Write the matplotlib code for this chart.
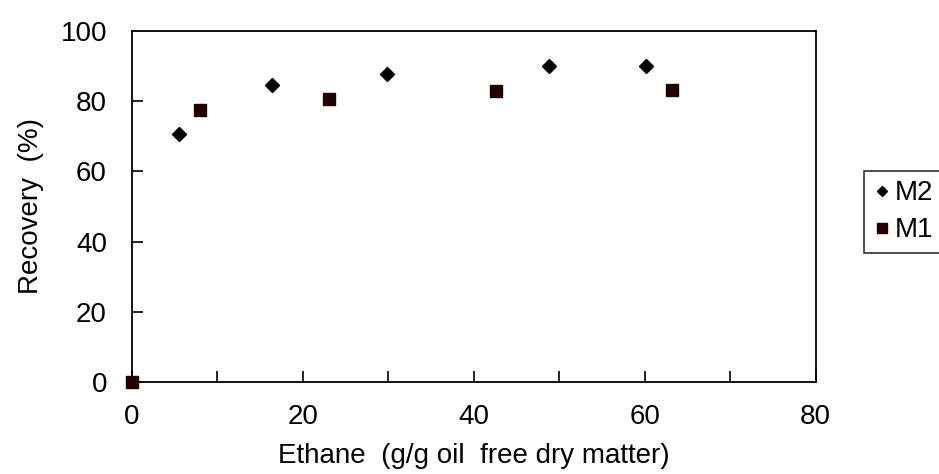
import matplotlib.pyplot as plt

# Data
m2_x = [5.5, 16.4, 29.8, 48.8, 60.2]
m2_y = [70.5, 84.6, 87.8, 89.9, 89.9]
m1_x = [0.0, 8.0, 23.1, 42.6, 63.2]
m1_y = [0.0, 77.4, 80.6, 82.8, 83.1]

x_ticks = [0, 10, 20, 30, 40, 50, 60, 70, 80]
x_labels = ['0', '', '20', '', '40', '', '60', '', '80']
y_ticks = [0, 20, 40, 60, 80, 100]

plt.rcParams['font.family'] = ['Liberation Sans', 'DejaVu Sans']

fig = plt.figure(figsize=(9.39, 4.74), dpi=100)
ax = fig.add_axes([0.1405, 0.194, 0.7282, 0.741])

ax.plot(m2_x, m2_y, linestyle='none', marker='D', markersize=7,
        color='black', label='M2', clip_on=False)
ax.plot(m1_x, m1_y, linestyle='none', marker='s', markersize=9,
        color='#220000', label='M1', clip_on=False, zorder=3)

ax.set_xlim(0, 80)
ax.set_ylim(0, 100)
ax.set_xticks(x_ticks)
ax.set_xticklabels(x_labels)
ax.set_yticks(y_ticks)

ax.tick_params(axis='both', direction='in', length=8, width=1.2, labelsize=20)
ax.tick_params(axis='x', pad=16, top=False)
ax.tick_params(axis='y', pad=18, right=False)
# the 100 tick sits on the top border, hide its mark
ax.yaxis.get_major_ticks()[-1].tick1line.set_visible(False)

for s in ax.spines.values():
    s.set_linewidth(1.3)
    s.set_color('black')

ax.set_xlabel('Ethane  (g/g oil  free dry matter)', fontsize=20, labelpad=9)
ax.set_ylabel('Recovery  (%)', fontsize=20, labelpad=12)

leg = fig.legend(loc='upper left', bbox_to_anchor=(0.92, 0.64),
                 fontsize=20, frameon=True, fancybox=False, edgecolor='black',
                 handlelength=0.6, handletextpad=0.15, markerscale=0.8,
                 borderpad=0.35, labelspacing=0.4, borderaxespad=0)
leg.get_frame().set_linewidth(1.2)

fig.savefig('out.png', dpi=100)
